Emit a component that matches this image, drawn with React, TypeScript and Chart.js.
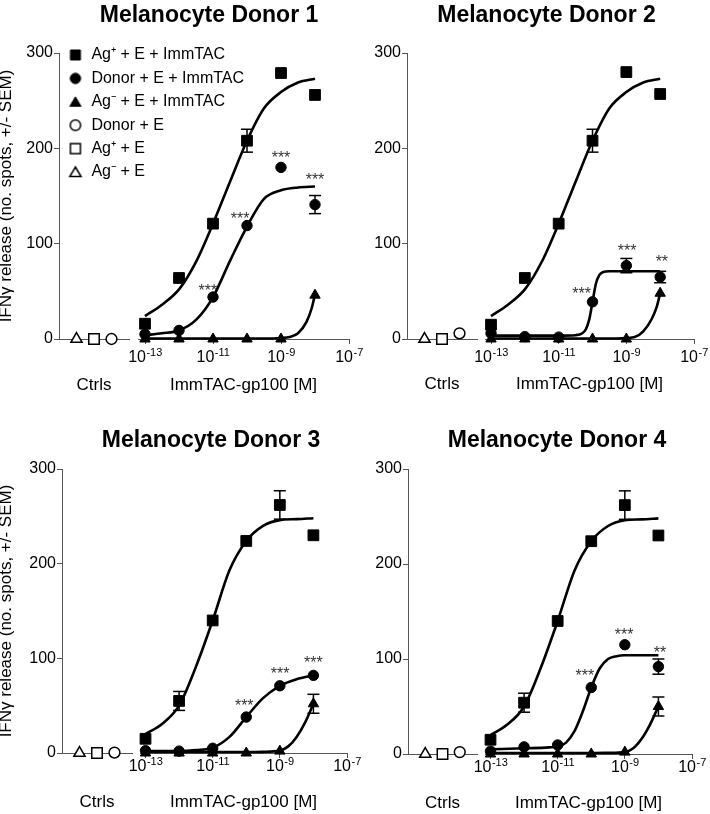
import React, { useEffect, useRef } from 'react';
import { Chart, registerables } from 'chart.js';

Chart.register(...registerables);

const FONT = '"Liberation Sans", Arial, Helvetica, sans-serif';
const AXIS = '#555';

// ---------------- Data ----------------
const concentrations = [1e-13, 1e-12, 1e-11, 1e-10, 1e-9, 1e-8];
const xTickExponents = [-13, -11, -9, -7];
const yTickValues = [0, 100, 200, 300];
// control slots on the "Ctrls" axis: Ag- + E, Ag+ + E, Donor + E
const controlSlots = [1, 2, 3];
const panelTitles = ['Melanocyte Donor 1', 'Melanocyte Donor 2', 'Melanocyte Donor 3', 'Melanocyte Donor 4'];
const yAxisTitle = 'IFNγ release (no. spots, +/- SEM)';
const ctrlAxisTitle = 'Ctrls';
const doseAxisTitle = 'ImmTAC-gp100 [M]';
const labelAgPosImm = 'Ag⁺ + E + ImmTAC';
const labelDonorImm = 'Donor + E + ImmTAC';
const labelAgNegImm = 'Ag⁻ + E + ImmTAC';
const labelDonorCtrl = 'Donor + E';
const labelAgPosCtrl = 'Ag⁺ + E';
const labelAgNegCtrl = 'Ag⁻ + E';

// Donor 1
const d1AgPos = [16, 64, 121, 208, 279, 256];
const d1AgPosSem = [0, 0, 0, 12, 0, 0];
const d1Donor = [5, 9, 44, 119, 180, 141];
const d1DonorSem = [0, 0, 0, 0, 0, 9.5];
const d1AgNeg = [0, 0, 0, 0, 0, 46];
const d1AgNegSem = [0, 0, 0, 0, 0, 0];
const d1Controls = [0, 0, 0];
const d1AgPosFitX = [-13, -12.5, -12, -11.5, -11, -10.5, -10, -9.5, -9, -8.5, -8];
const d1AgPosFitY = [24, 36, 52, 81, 121, 165, 208, 242, 259, 269, 273];
const d1DonorFitX = [-13, -12.5, -12, -11.5, -11, -10.5, -10, -9.5, -9, -8.5, -8];
const d1DonorFitY = [4, 6, 9, 20, 44, 82, 118, 147, 156, 159, 160];
const d1AgNegFitX = [-13, -12, -11, -10, -9.25, -9, -8.75, -8.5, -8.25, -8.1, -8];
const d1AgNegFitY = [0.5, 0.5, 0.5, 0.5, 0.6, 1, 2, 6, 18, 32, 47];
const d1StarX = [-11.15, -10.2, -9.0, -8.0];
const d1StarY = [55, 130, 194, 171];
const d1StarText = ['***', '***', '***', '***'];

// Donor 2
const d2AgPos = [15, 64, 121, 208, 280, 257];
const d2AgPosSem = [0, 0, 0, 12, 0, 0];
const d2Donor = [6, 2.5, 2, 39, 77, 65];
const d2DonorSem = [0, 0, 0, 0, 7.5, 6];
const d2AgNeg = [0, 0, 0, 0, 0, 48];
const d2AgNegSem = [0, 0, 0, 0, 0, 0];
const d2Controls = [0, 0, 6];
const d2AgPosFitX = [-13, -12.5, -12, -11.5, -11, -10.5, -10, -9.5, -9, -8.5, -8];
const d2AgPosFitY = [24, 36, 52, 81, 121, 165, 208, 242, 259, 269, 273];
const d2DonorFitX = [-13, -12, -11, -10.5, -10.3, -10.2, -10.1, -10, -9.9, -9.8, -9.7, -9.5, -9, -8.5, -8];
const d2DonorFitY = [3.5, 3.5, 3.5, 4, 6, 10, 20, 39, 58, 67, 70, 71, 71, 71, 71];
const d2AgNegFitX = [-13, -12, -11, -10, -9.25, -9, -8.75, -8.5, -8.25, -8.1, -8];
const d2AgNegFitY = [0.5, 0.5, 0.5, 0.5, 0.6, 1, 2, 8, 21, 34, 48];
const d2StarX = [-10.32, -8.98, -7.95];
const d2StarY = [51, 97, 85];
const d2StarText = ['***', '***', '**'];

// Donor 3
const d3AgPos = [15, 55, 140, 224, 262, 230];
const d3AgPosSem = [0, 10, 0, 0, 15, 0];
const d3Donor = [2.5, 2, 5, 38, 71, 82];
const d3DonorSem = [0, 0, 0, 0, 0, 0];
const d3AgNeg = [0, 0, 0, 0, 2, 52];
const d3AgNegSem = [0, 0, 0, 0, 0, 10];
const d3Controls = [0, 0, 0.5];
const d3AgPosFitX = [-13, -12.5, -12, -11.5, -11, -10.5, -10, -9.5, -9, -8.5, -8];
const d3AgPosFitY = [20, 31, 50, 91, 140, 193, 224, 240, 246, 247, 248];
const d3DonorFitX = [-13, -12.5, -12, -11.5, -11, -10.5, -10, -9.5, -9, -8.5, -8];
const d3DonorFitY = [2, 2, 2, 3, 5.5, 17, 38, 58, 71, 78, 82];
const d3AgNegFitX = [-13, -12, -11, -10, -9.5, -9, -8.75, -8.5, -8.25, -8];
const d3AgNegFitY = [1, 1, 1, 1, 1.2, 2.5, 7, 17, 32, 52];
const d3StarX = [-10.06, -8.99, -8.0];
const d3StarY = [54, 88, 99];
const d3StarText = ['***', '***', '***'];

// Donor 4
const d4AgPos = [15, 54, 140, 224, 262, 230];
const d4AgPosSem = [0, 10, 0, 0, 15, 0];
const d4Donor = [3, 7.5, 9.5, 70, 115, 92];
const d4DonorSem = [0, 0, 0, 0, 0, 8];
const d4AgNeg = [0, 0, 0, 0, 2, 50];
const d4AgNegSem = [0, 0, 0, 0, 0, 10];
const d4Controls = [0, 0, 2];
const d4AgPosFitX = [-13, -12.5, -12, -11.5, -11, -10.5, -10, -9.5, -9, -8.5, -8];
const d4AgPosFitY = [20, 31, 50, 91, 140, 193, 224, 240, 246, 247, 248];
const d4DonorFitX = [-13, -12, -11.25, -11, -10.75, -10.5, -10.25, -10, -9.75, -9.5, -9.25, -9, -8.5, -8];
const d4DonorFitY = [5, 6, 7, 8, 12, 24, 45, 70, 90, 100, 103, 104, 104, 104];
const d4AgNegFitX = [-13, -12, -11, -10, -9.5, -9, -8.75, -8.5, -8.25, -8];
const d4AgNegFitY = [1, 1, 1, 1, 1.2, 2, 6, 16, 31, 50];
const d4StarX = [-10.19, -9.02, -7.95];
const d4StarY = [86, 129, 111];
const d4StarText = ['***', '***', '**'];

const panels = [
  { title: panelTitles[0], agPos: d1AgPos, agPosSem: d1AgPosSem, donor: d1Donor, donorSem: d1DonorSem, agNeg: d1AgNeg, agNegSem: d1AgNegSem, controls: d1Controls, agPosFitX: d1AgPosFitX, agPosFitY: d1AgPosFitY, donorFitX: d1DonorFitX, donorFitY: d1DonorFitY, agNegFitX: d1AgNegFitX, agNegFitY: d1AgNegFitY, starX: d1StarX, starY: d1StarY, starText: d1StarText },
  { title: panelTitles[1], agPos: d2AgPos, agPosSem: d2AgPosSem, donor: d2Donor, donorSem: d2DonorSem, agNeg: d2AgNeg, agNegSem: d2AgNegSem, controls: d2Controls, agPosFitX: d2AgPosFitX, agPosFitY: d2AgPosFitY, donorFitX: d2DonorFitX, donorFitY: d2DonorFitY, agNegFitX: d2AgNegFitX, agNegFitY: d2AgNegFitY, starX: d2StarX, starY: d2StarY, starText: d2StarText },
  { title: panelTitles[2], agPos: d3AgPos, agPosSem: d3AgPosSem, donor: d3Donor, donorSem: d3DonorSem, agNeg: d3AgNeg, agNegSem: d3AgNegSem, controls: d3Controls, agPosFitX: d3AgPosFitX, agPosFitY: d3AgPosFitY, donorFitX: d3DonorFitX, donorFitY: d3DonorFitY, agNegFitX: d3AgNegFitX, agNegFitY: d3AgNegFitY, starX: d3StarX, starY: d3StarY, starText: d3StarText },
  { title: panelTitles[3], agPos: d4AgPos, agPosSem: d4AgPosSem, donor: d4Donor, donorSem: d4DonorSem, agNeg: d4AgNeg, agNegSem: d4AgNegSem, controls: d4Controls, agPosFitX: d4AgPosFitX, agPosFitY: d4AgPosFitY, donorFitX: d4DonorFitX, donorFitY: d4DonorFitY, agNegFitX: d4AgNegFitX, agNegFitY: d4AgNegFitY, starX: d4StarX, starY: d4StarY, starText: d4StarText },
];

// ---------------- Layout (positions / sizes, not data) ----------------
const panelLayouts = [
  { left: 0, top: 0, width: 418, height: 407, yAxisWidth: 59, rightGap: 69, xAxisHeight: 68, titlePadTop: 4, titlePadBottom: 26, ctrlW: 70, gapW: 9, logW: 211, logMinExp: -13.206, yTitle: true, legend: true, xTitlePad: 11, tickBaseline: 22.5 },
  { left: 363, top: 0, width: 367, height: 407, yAxisWidth: 44, rightGap: 36, xAxisHeight: 68, titlePadTop: 4, titlePadBottom: 26, ctrlW: 70, gapW: 8, logW: 209, logMinExp: -13.178, yTitle: false, legend: false, xTitlePad: 12, tickBaseline: 22.5 },
  { left: 0, top: 407, width: 422, height: 407, yAxisWidth: 62, rightGap: 75, xAxisHeight: 61, titlePadTop: 22, titlePadBottom: 17, ctrlW: 70, gapW: 8, logW: 207, logMinExp: -13.164, yTitle: true, legend: false, xTitlePad: 1, tickBaseline: 17.5 },
  { left: 365, top: 407, width: 384, height: 407, yAxisWidth: 43, rightGap: 57, xAxisHeight: 60, titlePadTop: 22, titlePadBottom: 17, ctrlW: 69, gapW: 8, logW: 207, logMinExp: -13.164, yTitle: false, legend: false, xTitlePad: 0, tickBaseline: 17.5 },
];

function markerImage(shape: string, filled: boolean): HTMLCanvasElement {
  const c = document.createElement('canvas');
  c.width = 16;
  c.height = 16;
  const g = c.getContext('2d')!;
  g.fillStyle = filled ? '#000' : '#fff';
  g.strokeStyle = '#000';
  g.lineWidth = filled ? 1 : 1.5;
  g.beginPath();
  if (shape === 'rect') g.rect(3, 3, 10, 10);
  else if (shape === 'circle') g.arc(8, 8, 5.2, 0, Math.PI * 2);
  else {
    g.moveTo(8, 3);
    g.lineTo(13.6, 12.5);
    g.lineTo(2.4, 12.5);
    g.closePath();
  }
  g.fill();
  g.stroke();
  return c;
}

const legendEntries = [
  { text: labelAgPosImm, shape: 'rect', filled: true },
  { text: labelDonorImm, shape: 'circle', filled: true },
  { text: labelAgNegImm, shape: 'triangle', filled: true },
  { text: labelDonorCtrl, shape: 'circle', filled: false },
  { text: labelAgPosCtrl, shape: 'rect', filled: false },
  { text: labelAgNegCtrl, shape: 'triangle', filled: false },
];

// "***" significance marks, positioned through the chart's own scales
const starsPlugin = {
  id: 'stars',
  afterDatasetsDraw(chart: any, _a: any, opts: any) {
    const items = opts && opts.items;
    if (!items) return;
    const { ctx } = chart;
    const xs = chart.scales.x;
    const ys = chart.scales.y;
    ctx.save();
    ctx.font = '16px ' + FONT;
    ctx.fillStyle = '#333';
    ctx.textAlign = 'center';
    ctx.textBaseline = 'alphabetic';
    for (const it of items) {
      ctx.fillText(it.text, xs.getPixelForValue(Math.pow(10, it.x)), ys.getPixelForValue(it.y) + 9);
    }
    ctx.restore();
  },
};

// power-of-ten tick labels (10 with a raised exponent) at the log scale's ticks
const powTicksPlugin = {
  id: 'powTicks',
  afterDraw(chart: any, _a: any, opts: any) {
    const s = chart.scales.x;
    if (!s) return;
    const { ctx } = chart;
    const base = s.top + (opts.baseline || 20);
    ctx.save();
    ctx.fillStyle = '#000';
    ctx.textBaseline = 'alphabetic';
    ctx.textAlign = 'left';
    for (const t of s.ticks) {
      const px = s.getPixelForValue(t.value);
      const exp = String(Math.round(Math.log10(t.value)));
      ctx.font = '16px ' + FONT;
      const w1 = ctx.measureText('10').width;
      ctx.font = '11px ' + FONT;
      const w2 = ctx.measureText(exp).width;
      const x0 = px - (w1 + w2) / 2;
      ctx.font = '16px ' + FONT;
      ctx.fillText('10', x0, base);
      ctx.font = '11px ' + FONT;
      ctx.fillText(exp, x0 + w1 + 0.5, base - 5.5);
    }
    ctx.restore();
  },
};

const legendPlacer = {
  id: 'legendPlacer',
  beforeDraw(chart: any, _a: any, opts: any) {
    const lg = chart.legend;
    if (!lg || !opts || !opts.enabled) return;
    const a = chart.chartArea;
    lg.left = a.left + opts.dx;
    lg.top = a.top + opts.dy;
    lg.right = lg.left + lg.width;
    lg.bottom = lg.top + 400;
  },
};

function buildConfig(p: any, L: any): any {
  const pts = (vals: number[]) => concentrations.map((c, i) => ({ x: c, y: vals[i] }));
  const fit = (xs: number[], ys: number[]) => xs.map((e, i) => ({ x: Math.pow(10, e), y: ys[i] }));
  const err = (vals: number[], sems: number[]) => {
    const out: any[] = [];
    concentrations.forEach((c, i) => {
      if (sems[i]) out.push({ x: c, y: vals[i] - sems[i] }, { x: c, y: vals[i] + sems[i] }, { x: c, y: null });
    });
    return out;
  };
  const filled = (label: string, data: any[], style: string, r: number) => ({
    label, data, xAxisID: 'x', yAxisID: 'y', pointStyle: style, pointRadius: r,
    pointBackgroundColor: '#000', pointBorderColor: '#000', pointBorderWidth: 1, showLine: false, order: 0, clip: false,
  });
  const open = (label: string, slot: number, val: number, style: string, r: number) => ({
    label, data: [{ x: slot, y: val }], xAxisID: 'xc', yAxisID: 'y', pointStyle: style, pointRadius: r,
    pointBackgroundColor: '#fff', pointBorderColor: '#000', pointBorderWidth: 1.5, showLine: false, order: 0, clip: false,
  });
  const curve = (label: string, data: any[]) => ({
    label, data, xAxisID: 'x', yAxisID: 'y', showLine: true, borderColor: '#000', borderWidth: 2.6,
    pointRadius: 0, cubicInterpolationMode: 'monotone', order: 2, clip: false, fill: false,
  });
  const ebar = (label: string, data: any[]) => ({
    label, data, xAxisID: 'x', yAxisID: 'y', showLine: true, spanGaps: false, borderColor: '#000', borderWidth: 1.5,
    pointStyle: 'line', pointRadius: 6, pointBorderWidth: 1.5, pointBorderColor: '#000', order: 1, clip: false,
  });

  const datasets = [
    filled(labelAgPosImm, pts(p.agPos), 'rect', 7.6),
    filled(labelDonorImm, pts(p.donor), 'circle', 5.2),
    filled(labelAgNegImm, pts(p.agNeg), 'triangle', 6),
    open(labelAgNegCtrl, controlSlots[0], p.controls[0], 'triangle', 6.5),
    open(labelAgPosCtrl, controlSlots[1], p.controls[1], 'rect', 7.4),
    open(labelDonorCtrl, controlSlots[2], p.controls[2], 'circle', 5.4),
    ebar('err1', err(p.agPos, p.agPosSem)),
    ebar('err2', err(p.donor, p.donorSem)),
    ebar('err3', err(p.agNeg, p.agNegSem)),
    curve('fit1', fit(p.agPosFitX, p.agPosFitY)),
    curve('fit2', fit(p.donorFitX, p.donorFitY)),
    curve('fit3', fit(p.agNegFitX, p.agNegFitY)),
  ];

  const stars = p.starX.map((x: number, i: number) => ({ x, y: p.starY[i], text: p.starText[i] }));
  const xH = (s: any) => { s.height = L.xAxisHeight; };

  return {
    type: 'scatter',
    data: { datasets },
    plugins: [starsPlugin, powTicksPlugin, legendPlacer],
    options: {
      responsive: false,
      devicePixelRatio: 1,
      animation: false,
      events: [],
      layout: { padding: 0 },
      scales: {
        xc: {
          type: 'linear', position: 'bottom', stack: 'bx', stackWeight: L.ctrlW, weight: 1,
          min: 0, max: 4,
          grid: { display: false, drawTicks: false },
          border: { display: true, color: AXIS, width: 1 },
          ticks: { display: false },
          title: { display: true, text: ctrlAxisTitle, color: '#000', font: { family: FONT, size: 17 }, padding: { top: 0, bottom: L.xTitlePad } },
          afterFit: xH,
        },
        xg: {
          type: 'linear', position: 'bottom', stack: 'bx', stackWeight: L.gapW, weight: 2,
          grid: { display: false, drawTicks: false },
          border: { display: false },
          ticks: { display: false },
          afterFit: xH,
        },
        x: {
          type: 'logarithmic', position: 'bottom', stack: 'bx', stackWeight: L.logW, weight: 3,
          min: Math.pow(10, L.logMinExp), max: 1e-7,
          afterBuildTicks: (s: any) => { s.ticks = xTickExponents.map((e) => ({ value: Math.pow(10, e) })); },
          ticks: { display: false, autoSkip: false, maxRotation: 0, minRotation: 0 },
          grid: { display: true, drawOnChartArea: false, drawTicks: true, tickLength: 5, color: AXIS },
          border: { display: true, color: AXIS, width: 1 },
          title: { display: true, text: doseAxisTitle, color: '#000', font: { family: FONT, size: 17 }, padding: { top: 0, bottom: L.xTitlePad } },
          afterFit: xH,
        },
        y: {
          type: 'linear', position: 'left', min: 0, max: 300,
          afterBuildTicks: (s: any) => { s.ticks = yTickValues.map((v) => ({ value: v })); },
          ticks: { padding: 1, color: '#000', font: { family: FONT, size: 16 } },
          grid: { display: true, drawOnChartArea: false, drawTicks: true, tickLength: 5, color: AXIS },
          border: { display: true, color: AXIS, width: 1 },
          title: { display: L.yTitle, text: yAxisTitle, color: '#000', font: { family: FONT, size: 17, lineHeight: 1 }, padding: { top: -2, bottom: 0 } },
          afterFit: (s: any) => { s.width = L.yAxisWidth; },
        },
        yr: {
          type: 'linear', position: 'right',
          grid: { display: false, drawTicks: false },
          border: { display: false },
          ticks: { display: false },
          afterFit: (s: any) => { s.width = L.rightGap; },
        },
      },
      plugins: {
        tooltip: { enabled: false },
        title: {
          display: true, text: p.title, color: '#000',
          font: { family: FONT, size: 23, weight: 'bold', lineHeight: 1 },
          padding: { top: L.titlePadTop, bottom: L.titlePadBottom },
        },
        legend: {
          display: L.legend,
          position: 'chartArea',
          align: 'start',
          labels: {
            usePointStyle: true,
            boxWidth: 16,
            boxHeight: 16,
            padding: 7.4,
            color: '#000',
            font: { family: FONT, size: 16 },
            generateLabels: () => legendEntries.map((e) => ({
              text: e.text, pointStyle: markerImage(e.shape, e.filled), fillStyle: '#000', strokeStyle: '#000',
              lineWidth: 0, hidden: false, fontColor: '#000',
            })),
          },
        },
        legendPlacer: { enabled: L.legend, dx: 1, dy: -13.4 },
        powTicks: { baseline: L.tickBaseline },
        stars: { items: stars },
      },
    },
  };
}

function Panel({ idx }: { idx: number }) {
  const ref = useRef<HTMLCanvasElement>(null);
  const L = panelLayouts[idx];
  useEffect(() => {
    const chart = new Chart(ref.current as HTMLCanvasElement, buildConfig(panels[idx], L));
    return () => chart.destroy();
  }, [idx]);
  return (
    <canvas
      ref={ref}
      width={L.width}
      height={L.height}
      style={{ position: 'absolute', left: L.left, top: L.top, width: L.width, height: L.height, display: 'block' }}
    />
  );
}

export default function App() {
  return (
    <div style={{ position: 'absolute', left: 0, top: 0, width: 710, height: 814, overflow: 'hidden', background: '#fff' }}>
      {panels.map((_, i) => (
        <Panel key={i} idx={i} />
      ))}
    </div>
  );
}
